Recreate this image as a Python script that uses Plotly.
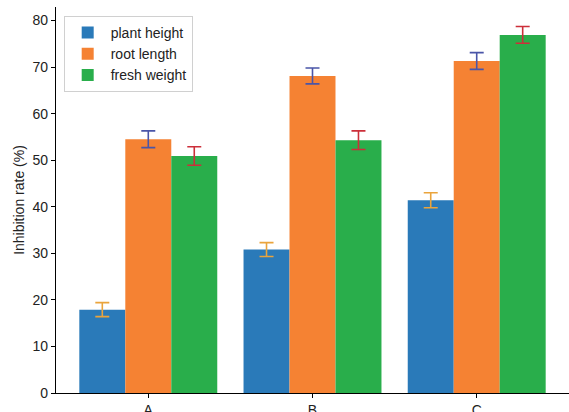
import plotly.graph_objects as go

categories = ["A", "B", "C"]
series_names = ["plant height", "root length", "fresh weight"]
plant_height = [17.9, 30.8, 41.4]
plant_height_err = [1.5, 1.5, 1.6]
root_length = [54.5, 68.1, 71.3]
root_length_err = [1.8, 1.7, 1.8]
fresh_weight = [50.9, 54.3, 76.9]
fresh_weight_err = [2.0, 2.0, 1.8]

bar_colors = ["#2a7ab9", "#f58233", "#29ae4b"]
err_colors = ["#eaa43c", "#4a55a8", "#cc2f3a"]

fig = go.Figure()
for name, vals, errs, bc, ec in zip(series_names,
                                    [plant_height, root_length, fresh_weight],
                                    [plant_height_err, root_length_err, fresh_weight_err],
                                    bar_colors, err_colors):
    fig.add_trace(go.Bar(
        x=categories, y=vals, name=name,
        marker=dict(color=bc, line=dict(width=0)),
        error_y=dict(type="data", array=errs, color=ec, thickness=1.6, width=7),
    ))

fig.update_layout(
    width=569, height=412,
    margin=dict(l=56, r=0, t=7, b=19),
    barmode="group", bargap=0.16, bargroupgap=0,
    plot_bgcolor="white", paper_bgcolor="white",
    font=dict(family="Liberation Sans, Arial, sans-serif", size=14, color="#222"),
    showlegend=True,
    legend=dict(x=0.015, y=0.977, xanchor="left", yanchor="top",
                bgcolor="rgba(255,255,255,0.9)", bordercolor="#d0d0d0", borderwidth=1,
                font=dict(size=14), tracegroupgap=0, itemwidth=36),
    xaxis=dict(range=[-0.562, 2.562], showline=True, linecolor="black", linewidth=1.2,
               ticks="outside", ticklen=4, tickcolor="black", showgrid=False,
               tickfont=dict(size=14), automargin=False),
    yaxis=dict(range=[0, 82.9], showline=True, linecolor="black", linewidth=1.2,
               ticks="outside", ticklen=4, tickcolor="black", showgrid=False,
               dtick=10, zeroline=False, tickfont=dict(size=14), automargin=False,
               title=dict(text="Inhibition rate (%)", font=dict(size=14), standoff=4)),
)

fig.write_html("out.html",
               config={"displayModeBar": False},
               post_script="document.body.style.margin='0px';document.body.style.overflow='hidden';")
